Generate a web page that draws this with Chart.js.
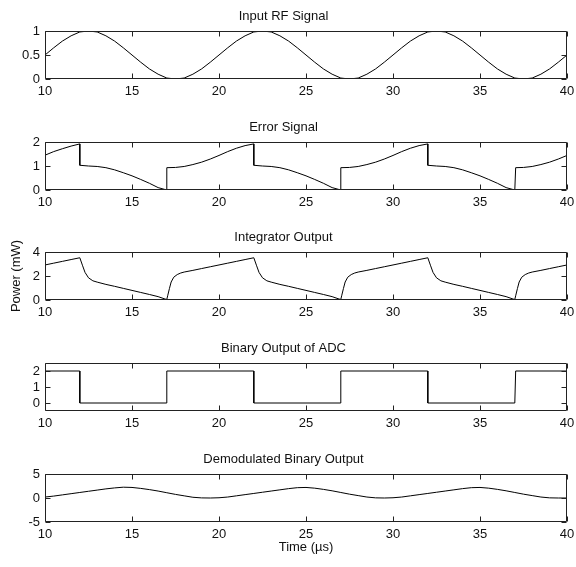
<!DOCTYPE html>
<html lang="en">
<head>
<meta charset="UTF-8">
<title>Signals</title>
<script src="https://cdn.jsdelivr.net/npm/chart.js"></script>
<style>
  html, body { margin: 0; padding: 0; background: #fff; }
  #page { position: relative; width: 576px; height: 567px; overflow: hidden; }
  #page canvas { position: absolute; left: 0; }
</style>
</head>
<body>
<div id="page">
  <canvas id="rf" width="576" height="96" style="top:7px"></canvas>
  <canvas id="error" width="576" height="96" style="top:118px"></canvas>
  <canvas id="integrator" width="576" height="96" style="top:228px"></canvas>
  <canvas id="adc" width="576" height="96" style="top:339px"></canvas>
  <canvas id="demod" width="576" height="112" style="top:450px"></canvas>
</div>

<script>
// ----- data -----
const xTicks = [10, 15, 20, 25, 30, 35, 40];

const rfTicks = [0, 0.5, 1];
const errorTicks = [0, 1, 2];
const integratorTicks = [0, 2, 4];
const adcTicks = [0, 1, 2];
const demodTicks = [-5, 0, 5];

// common time grid (µs) for the input signal and the demodulated output
const sampleTime = [10,10.5,11,11.5,12,12.5,13,13.5,14,14.5,15,15.5,16,16.5,17,17.5,18,18.5,19,19.5,
  20,20.5,21,21.5,22,22.5,23,23.5,24,24.5,25,25.5,26,26.5,27,27.5,28,28.5,29,29.5,
  30,30.5,31,31.5,32,32.5,33,33.5,34,34.5,35,35.5,36,36.5,37,37.5,38,38.5,39,39.5,40];

const rfSignal = [0.5,0.65,0.79,0.9,0.98,1,0.98,0.9,0.79,0.65,0.5,0.35,0.21,0.1,0.02,0,0.02,0.1,0.21,0.35,
  0.5,0.65,0.79,0.9,0.98,1,0.98,0.9,0.79,0.65,0.5,0.35,0.21,0.1,0.02,0,0.02,0.1,0.21,0.35,
  0.5,0.65,0.79,0.9,0.98,1,0.98,0.9,0.79,0.65,0.5,0.35,0.21,0.1,0.02,0,0.02,0.1,0.21,0.35,0.5];

const demodOutput = [0.2,0.4,0.65,0.9,1.15,1.4,1.65,1.9,2.1,2.25,2.2,2.0,1.75,1.45,1.1,0.75,0.45,0.15,0.02,0,
  0.05,0.2,0.45,0.7,0.95,1.2,1.45,1.7,1.95,2.15,2.2,2.05,1.8,1.5,1.15,0.8,0.5,0.2,0.03,0,
  0.05,0.2,0.45,0.7,0.95,1.2,1.45,1.7,1.95,2.15,2.2,2.05,1.8,1.5,1.15,0.8,0.5,0.2,0.03,0,0];

const errorTime = [10,10.5,11,11.5,12,
  12,12.5,13,13.5,14,14.5,15,15.5,16,16.5,17,
  17,17.5,18,18.5,19,19.5,20,20.5,21,21.5,22,
  22,22.5,23,23.5,24,24.5,25,25.5,26,26.5,27,
  27,27.5,28,28.5,29,29.5,30,30.5,31,31.5,32,
  32,32.5,33,33.5,34,34.5,35,35.5,36,36.5,37,
  37.05,37.5,38,38.5,39,39.5,40];
const errorSignal = [1.45,1.6,1.72,1.83,1.92,
  1.03,1.0,0.98,0.93,0.84,0.72,0.59,0.44,0.28,0.1,0,
  0.93,0.94,0.98,1.06,1.16,1.29,1.44,1.6,1.74,1.85,1.92,
  1.03,1.0,0.98,0.93,0.84,0.72,0.59,0.44,0.28,0.1,0,
  0.93,0.94,0.98,1.06,1.16,1.29,1.44,1.6,1.74,1.85,1.92,
  1.03,1.0,0.98,0.93,0.84,0.72,0.59,0.44,0.28,0.1,0,
  0.93,0.94,0.98,1.06,1.16,1.29,1.44];

const integratorTime = [10,10.5,11,11.5,
  12,12.15,12.3,12.5,12.75,13,13.5,14,14.5,15,15.5,16,16.5,16.9,17,17.05,17.15,17.25,17.4,17.6,17.8,18,18.5,19,19.5,20,20.5,21,21.5,
  22,22.15,22.3,22.5,22.75,23,23.5,24,24.5,25,25.5,26,26.5,26.9,27,27.05,27.15,27.25,27.4,27.6,27.8,28,28.5,29,29.5,30,30.5,31,31.5,
  32,32.15,32.3,32.5,32.75,33,33.5,34,34.5,35,35.5,36,36.5,36.9,37,37.05,37.15,37.25,37.4,37.6,37.8,38,38.5,39,39.5,
  40];
const integratorPower = [2.92,3.07,3.22,3.37,
  3.52,2.9,2.3,1.85,1.6,1.49,1.3,1.14,0.97,0.8,0.63,0.46,0.28,0.08,0.05,0.35,0.95,1.5,1.9,2.12,2.25,2.33,2.47,2.62,2.77,2.92,3.07,3.22,3.37,
  3.52,2.9,2.3,1.85,1.6,1.49,1.3,1.14,0.97,0.8,0.63,0.46,0.28,0.08,0.05,0.35,0.95,1.5,1.9,2.12,2.25,2.33,2.47,2.62,2.77,2.92,3.07,3.22,3.37,
  3.52,2.9,2.3,1.85,1.6,1.49,1.3,1.14,0.97,0.8,0.63,0.46,0.28,0.08,0.05,0.35,0.95,1.5,1.9,2.12,2.25,2.33,2.47,2.62,2.77,2.92,3.07,3.22,3.37,
  2.92];

const adcTime = [10,12,12,17,17,22,22,27,27,32,32,37,37.05,40];
const adcLevel = [2,2,0,0,2,2,0,0,2,2,0,0,2,2];

// ----- drawing -----
Chart.defaults.font.family = '"Liberation Sans", Arial, sans-serif';
Chart.defaults.font.size = 13;
Chart.defaults.color = '#111';

// matlab style box with ticks pointing inwards on all four sides
const matlabBox = {
  id: 'matlabBox',
  afterDraw(chart) {
    const ctx = chart.ctx;
    const a = chart.chartArea;
    const x = chart.scales.x, y = chart.scales.y;
    const l = Math.round(a.left) + 0.5, r = Math.round(a.right) - 0.5;
    const t = Math.round(a.top) + 0.5, b = Math.round(a.bottom) - 0.5;
    ctx.save();
    ctx.strokeStyle = '#222';
    ctx.lineWidth = 1;
    ctx.beginPath();
    ctx.rect(l, t, r - l, b - t);
    x.ticks.forEach(tk => {
      const px = Math.round(x.getPixelForValue(tk.value)) + 0.5;
      ctx.moveTo(px, b); ctx.lineTo(px, b - 5);
      ctx.moveTo(px, t); ctx.lineTo(px, t + 5);
    });
    y.ticks.forEach(tk => {
      const py = Math.round(y.getPixelForValue(tk.value)) + 0.5;
      ctx.moveTo(l, py); ctx.lineTo(l + 5, py);
      ctx.moveTo(r, py); ctx.lineTo(r - 5, py);
    });
    ctx.stroke();
    ctx.restore();
  }
};

function toPoints(xs, ys) {
  return xs.map((t, i) => ({ x: t, y: ys[i] }));
}

function makePanel(id, title, xs, ys, yMin, yMax, yTicks, yLabel, xLabel) {
  const xHeight = xLabel ? 40 : 24;
  new Chart(document.getElementById(id), {
    type: 'line',
    data: {
      datasets: [{
        data: toPoints(xs, ys),
        borderColor: '#000',
        borderWidth: 1,
        pointRadius: 0,
        tension: 0,
        fill: false
      }]
    },
    options: {
      responsive: false,
      animation: false,
      events: [],
      layout: { padding: { left: 0, right: 9, top: 0, bottom: 0 } },
      plugins: {
        legend: { display: false },
        tooltip: { enabled: false },
        title: {
          display: true,
          text: title,
          color: '#111',
          font: { size: 13, weight: 'normal' },
          padding: { top: 1.2, bottom: 7.2 }
        }
      },
      scales: {
        x: {
          type: 'linear',
          min: 10,
          max: 40,
          grid: { display: false, drawTicks: false },
          border: { display: false },
          afterBuildTicks: s => { s.ticks = xTicks.map(v => ({ value: v })); },
          afterFit: s => { s.height = xHeight; s.paddingLeft = 0; s.paddingRight = 0; },
          ticks: { padding: 5, maxRotation: 0, callback: v => String(v) },
          title: {
            display: !!xLabel,
            text: xLabel || '',
            font: { size: 13 },
            padding: { top: 0, bottom: 7.2 }
          }
        },
        y: {
          min: yMin,
          max: yMax,
          grid: { display: false, drawTicks: false },
          border: { display: false },
          afterBuildTicks: s => { s.ticks = yTicks.map(v => ({ value: v })); },
          afterFit: s => { s.width = 45; s.paddingTop = 0; s.paddingBottom = 0; },
          ticks: { padding: 5, callback: v => String(v) },
          title: {
            display: !!yLabel,
            text: yLabel || '',
            font: { size: 13 },
            padding: { top: 9, bottom: 0 }
          }
        }
      }
    },
    plugins: [matlabBox]
  });
}

makePanel('rf', 'Input RF Signal', sampleTime, rfSignal, 0, 1, rfTicks);
makePanel('error', 'Error Signal', errorTime, errorSignal, 0, 2, errorTicks);
makePanel('integrator', 'Integrator Output', integratorTime, integratorPower, 0, 4, integratorTicks, 'Power (mW)');
makePanel('adc', 'Binary Output of ADC', adcTime, adcLevel, -0.5, 2.5, adcTicks);
makePanel('demod', 'Demodulated Binary Output', sampleTime, demodOutput, -5, 5, demodTicks, null, 'Time (\u00b5s)');
</script>
</body>
</html>
